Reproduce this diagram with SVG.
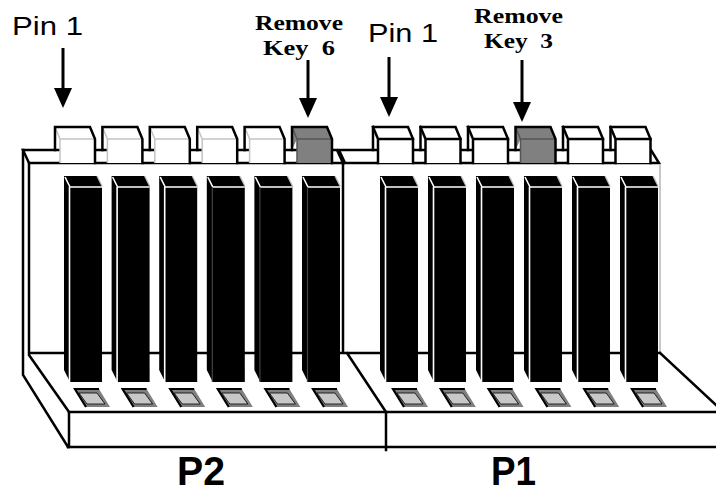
<svg xmlns="http://www.w3.org/2000/svg" xmlns:xlink="http://www.w3.org/1999/xlink" width="716" height="494" viewBox="0 0 716 494">
<style>
.ln{fill:none;stroke:#000;stroke-width:2.5;stroke-linecap:square;stroke-linejoin:miter}
.lg{fill:none;stroke:#c8c8c8;stroke-width:2}
.arr{fill:none;stroke:#000;stroke-width:3}
.pin{font-family:"Liberation Sans",Arial,sans-serif;font-size:26px;fill:#000}
.rk{font-family:"Liberation Serif","Times New Roman",serif;font-weight:bold;font-size:22px;fill:#000;white-space:pre}
.big{font-family:"Liberation Sans",Arial,sans-serif;font-weight:bold;font-size:40px;fill:#000}
</style>
<defs>
<marker id="ah" markerUnits="userSpaceOnUse" viewBox="0 0 20 18" markerWidth="20" markerHeight="18" refX="16" refY="9" orient="auto">
<path d="M0,0 L20,9 L0,18 Z" fill="#000"/>
</marker>
<g id="keyW2">
<path d="M0,0 H35 L40,12 V36 H5 V12 L0,23 Z" fill="#fff"/>
<path d="M0,0 L5,12 H40 M5,12 V36" fill="none" stroke="#c4c4c4" stroke-width="1.5"/>
<path d="M0,23 V0 H35 L40,12 V36" class="ln"/>
</g>
<g id="keyW1">
<path d="M0,0 H35 L40,12 V36 H5 V12 L0,23 Z" fill="#fff"/>
<path d="M0,0 L5,12 H40 M5,12 V36" class="ln"/>
<path d="M0,23 V0 H35 L40,12 V36" class="ln"/>
</g>
<g id="keyG">
<path d="M0,0 H35 L40,12 V36 H5 V12 L0,23 Z" fill="#808080"/>
<path d="M0,0 L5,12 H40 M5,12 V36" fill="none" stroke="#555" stroke-width="1.5"/>
<path d="M0,23 V0 H35 L40,12 V36" class="ln"/>
</g>
<g id="conn">
<path d="M0,0 H33 L38,10 V206 H6 L0,194 Z" fill="#000"/>
<path d="M1,1 L6,11 H38 M5.5,11 V206" fill="none" stroke="#fff" stroke-width="1.6"/>
<path d="M33,0 L38,10" stroke="#bbb" stroke-width="1.2"/>
</g>
<g id="connD">
<path d="M0,0 H33 L38,10 V206 H6 L0,194 Z" fill="#000"/>
<path d="M1,1 L6,11 H38" fill="none" stroke="#fff" stroke-width="1.6"/>
<path d="M5.5,11 V206" fill="none" stroke="#444" stroke-width="1.2"/>
<path d="M33,0 L38,10" stroke="#bbb" stroke-width="1.2"/>
</g>
<g id="pad">
<path d="M0,0 H24 L35,18 H11 Z" fill="#808080"/>
<path d="M11,18 L0,0 H24" fill="none" stroke="#000" stroke-width="2.2"/>
<path d="M4,4 H22 L30,15 H12 Z" fill="#c8c8c8" stroke="#000" stroke-width="0.8"/>
</g>
</defs>

<g id="P1">
<path d="M339,150 H651 L659,163 V353 H345 V163 Z" fill="#fff"/>
<path d="M339,150 H651 L659,163 H345 Z" class="ln"/>
<path d="M660,164 V352" class="lg"/>
<path d="M345,353 H660 M347,353 L386,412 M386,412 V450 M660,353 L716,405" class="ln"/>
<use xlink:href="#keyW1" x="373" y="127"/>
<use xlink:href="#keyW1" x="420.5" y="127"/>
<use xlink:href="#keyW1" x="468" y="127"/>
<use xlink:href="#keyG" x="515.5" y="127"/>
<use xlink:href="#keyW1" x="563" y="127"/>
<use xlink:href="#keyW1" x="610.5" y="127"/>
<use xlink:href="#conn" x="380" y="176"/>
<use xlink:href="#conn" x="428" y="176"/>
<use xlink:href="#conn" x="476" y="176"/>
<use xlink:href="#conn" x="524" y="176"/>
<use xlink:href="#conn" x="572" y="176"/>
<use xlink:href="#conn" x="620" y="176"/>
<use xlink:href="#pad" x="393" y="389"/>
<use xlink:href="#pad" x="440.8" y="389"/>
<use xlink:href="#pad" x="488.6" y="389"/>
<use xlink:href="#pad" x="536.4" y="389"/>
<use xlink:href="#pad" x="584.2" y="389"/>
<use xlink:href="#pad" x="632" y="389"/>
</g>

<g id="P2">
<path d="M23,150 H337 L343,163 V353 H29 V163 Z" fill="#fff"/>
<path d="M23,150 H337 L343,163 H29 Z" class="ln"/>
<path d="M23,150 V375 L68,447 M29,163 V355 L69,412 V447 M343,163 V353 M29,353 H343" class="ln"/>
<path d="M69,412 H716 M68,447 H716" class="ln"/>
<use xlink:href="#keyW2" x="55" y="127"/>
<use xlink:href="#keyW2" x="102.4" y="127"/>
<use xlink:href="#keyW2" x="149.8" y="127"/>
<use xlink:href="#keyW2" x="197.2" y="127"/>
<use xlink:href="#keyW2" x="244.6" y="127"/>
<use xlink:href="#keyG" x="292" y="127"/>
<use xlink:href="#conn" x="64" y="176"/>
<use xlink:href="#conn" x="111.6" y="176"/>
<use xlink:href="#conn" x="159.2" y="176"/>
<use xlink:href="#connD" x="206.8" y="176"/>
<use xlink:href="#connD" x="254.4" y="176"/>
<use xlink:href="#connD" x="302" y="176"/>
<use xlink:href="#pad" x="75" y="389"/>
<use xlink:href="#pad" x="122.6" y="389"/>
<use xlink:href="#pad" x="170.2" y="389"/>
<use xlink:href="#pad" x="217.8" y="389"/>
<use xlink:href="#pad" x="265.4" y="389"/>
<use xlink:href="#pad" x="313" y="389"/>
</g>

<g id="connectors">
<path d="M63,48 V104" class="arr" marker-end="url(#ah)"/>
<path d="M308,60 V114" class="arr" marker-end="url(#ah)"/>
<path d="M389,57 V113" class="arr" marker-end="url(#ah)"/>
<path d="M522,60 V118" class="arr" marker-end="url(#ah)"/>
</g>

<g id="labels">
<text class="pin" x="12" y="35" textLength="71" lengthAdjust="spacingAndGlyphs">Pin 1</text>
<text class="pin" x="368" y="42" textLength="70" lengthAdjust="spacingAndGlyphs">Pin 1</text>
<text class="rk" x="255" y="30" textLength="88" lengthAdjust="spacingAndGlyphs">Remove</text>
<text class="rk" x="263" y="55" xml:space="preserve" textLength="72" lengthAdjust="spacingAndGlyphs">Key  6</text>
<text class="rk" x="474" y="23" textLength="89" lengthAdjust="spacingAndGlyphs">Remove</text>
<text class="rk" x="484" y="48" xml:space="preserve" textLength="69" lengthAdjust="spacingAndGlyphs">Key  3</text>
<text class="big" x="177" y="485" textLength="48" lengthAdjust="spacingAndGlyphs">P2</text>
<text class="big" x="491" y="485" textLength="45" lengthAdjust="spacingAndGlyphs">P1</text>
</g>
</svg>
